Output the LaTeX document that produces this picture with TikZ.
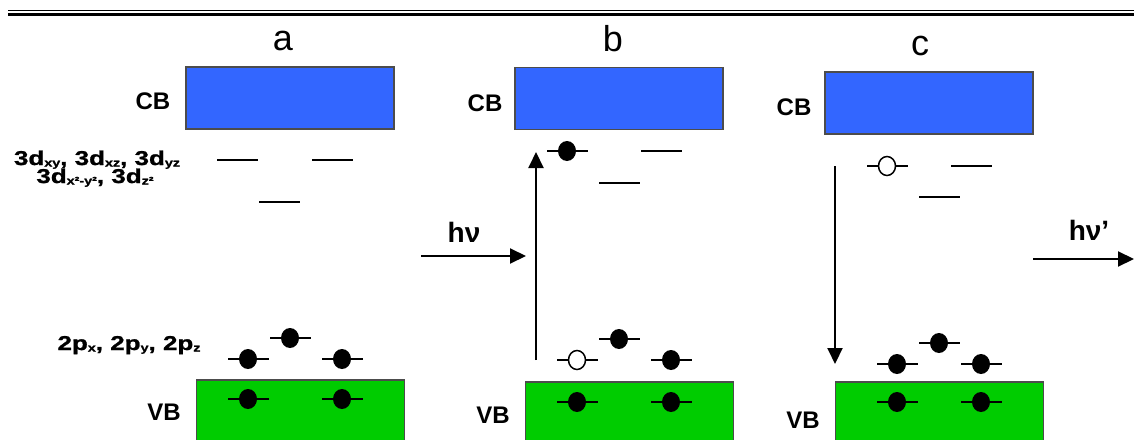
\documentclass[tikz,border=0pt]{standalone}
\usepackage{fontspec}
\setmainfont{Liberation Sans}
\newfontfamily\widefont[FakeStretch=1.3,FakeBold=1.2]{Liberation Sans}
\usetikzlibrary{shapes.geometric,arrows.meta}

\definecolor{cbblue}{RGB}{51,102,255}
\definecolor{vbgreen}{RGB}{0,204,0}

% small lowered index for the orbital names
\newcommand{\orbidx}[1]{\raisebox{-1.5pt}{\fontsize{11}{11}\selectfont #1}}

\begin{document}
\begin{tikzpicture}[
	x = 1pt, y = -1pt, % pixel grid, y downwards
	> = {Triangle[length=16pt,width=15pt]}, % arrow head style
	line width = 2pt, % line style
	font = \bfseries
	]
	
	\tikzstyle{band}=[
	rectangle,
	draw = black!70,
	line width = 1.2pt,
	minimum width = 208pt,
	minimum height = 62pt,
	inner sep = 0pt
	]
	\tikzstyle{cb}=[band, fill = cbblue]
	\tikzstyle{vb}=[band, fill = vbgreen, minimum height = 66pt]
	\tikzstyle{level}=[rectangle, fill = black, minimum width = 41pt, minimum height = 2pt, inner sep = 0pt]
	\tikzstyle{electron}=[ellipse, fill = black, minimum width = 18pt, minimum height = 20pt, inner sep = 0pt]
	\tikzstyle{hole}=[ellipse, draw = black, line width = 1.5pt, fill = white, minimum width = 17pt, minimum height = 19pt, inner sep = 0pt]
	\tikzstyle{panel}=[anchor = base, font = \fontsize{36}{40}\selectfont\mdseries]
	\tikzstyle{bandname}=[font = \fontsize{24}{28}\selectfont\bfseries]
	\tikzstyle{orbital}=[anchor = base, inner sep = 0pt, font = \widefont\fontsize{20}{22}\selectfont\bfseries]
	\tikzstyle{photon}=[anchor = base, font = \fontsize{28}{32}\selectfont\bfseries]
	
	\useasboundingbox (0,0) rectangle (1134,439);
	\clip (0,0) rectangle (1134,439);
	
	% double rule on top
	\draw[line width = 1.3pt] (8,10.5) -- (1134,10.5);
	\draw[line width = 3pt] (8,14.2) -- (1134,14.2);
	
	% panel a
	\node[panel] (pa) at (283,50) {a};
	\node[cb] (cba) at (290,98) {};
	\node[bandname] (cbla) at (153,101) {CB};
	\node[orbital] (dla) at (97,165) {3d\orbidx{xy}, 3d\orbidx{xz}, 3d\orbidx{yz}};
	\node[orbital] (dlb) at (95,183) {3d\orbidx{x²-y²}, 3d\orbidx{z²}};
	\node[level] (a-d1) at (237.5,160) {};
	\node[level] (a-d2) at (332,160) {};
	\node[level] (a-d3) at (279.5,202) {};
	\node[orbital] (pla) at (129,350) {2p\orbidx{x}, 2p\orbidx{y}, 2p\orbidx{z}};
	\node[level] (a-p1) at (248,359) {};
	\node[level] (a-p2) at (290,338) {};
	\node[level] (a-p3) at (342,359) {};
	\node[vb] (vba) at (300.5,413) {};
	\node[bandname] (vbla) at (164,412) {VB};
	\node[level] (a-v1) at (248,399) {};
	\node[level] (a-v2) at (342,399) {};
	\foreach \e in {a-p1,a-p2,a-p3,a-v1,a-v2}
		\node[electron] at (\e) {};
	
	% panel b
	\node[panel] (pb) at (613,51) {b};
	\node[cb] (cbb) at (619,98.5) {};
	\node[bandname] (cblb) at (485,103) {CB};
	\node[level] (b-d1) at (567,151) {};
	\node[level] (b-d2) at (661,151) {};
	\node[level] (b-d3) at (619,183) {};
	\node[level] (b-p1) at (577,360) {};
	\node[level] (b-p2) at (619,339) {};
	\node[level] (b-p3) at (671,360) {};
	\node[vb] (vbb) at (629.5,415) {};
	\node[bandname] (vblb) at (493,415) {VB};
	\node[level] (b-v1) at (577,402) {};
	\node[level] (b-v2) at (671,402) {};
	\foreach \e in {b-d1,b-p2,b-p3,b-v1,b-v2}
		\node[electron] at (\e) {};
	\node[hole] at (b-p1) {};
	
	\coordinate (hvin) at (421,256);
	\coordinate (hvtip) at (526,256);
	\draw[->] (hvin) -- (hvtip);
	\node[photon] (hv) at (464,242) {hν};
	\coordinate (exlow) at (536,360);
	\coordinate (exhigh) at (536,152);
	\draw[->] (exlow) -- (exhigh);
	
	% panel c
	\node[panel] (pc) at (920,55) {c};
	\node[cb] (cbc) at (929,103) {};
	\node[bandname] (cblc) at (794,107) {CB};
	\node[level] (c-d1) at (887,166) {};
	\node[level] (c-d2) at (971,166) {};
	\node[level] (c-d3) at (939,197) {};
	\node[level] (c-p1) at (897,364) {};
	\node[level] (c-p2) at (939,343) {};
	\node[level] (c-p3) at (981,364) {};
	\node[vb] (vbc) at (939.5,415) {};
	\node[bandname] (vblc) at (803,420) {VB};
	\node[level] (c-v1) at (897,402) {};
	\node[level] (c-v2) at (981,402) {};
	\foreach \e in {c-p1,c-p2,c-p3,c-v1,c-v2}
		\node[electron] at (\e) {};
	\node[hole] at (c-d1) {};
	
	\coordinate (rehigh) at (835,166);
	\coordinate (relow) at (835,364);
	\draw[->] (rehigh) -- (relow);
	\coordinate (hvout) at (1033,259);
	\coordinate (hvend) at (1134,259);
	\draw[->] (hvout) -- (hvend);
	\node[photon] (hvp) at (1089,240) {hν’};
\end{tikzpicture}
\end{document}
